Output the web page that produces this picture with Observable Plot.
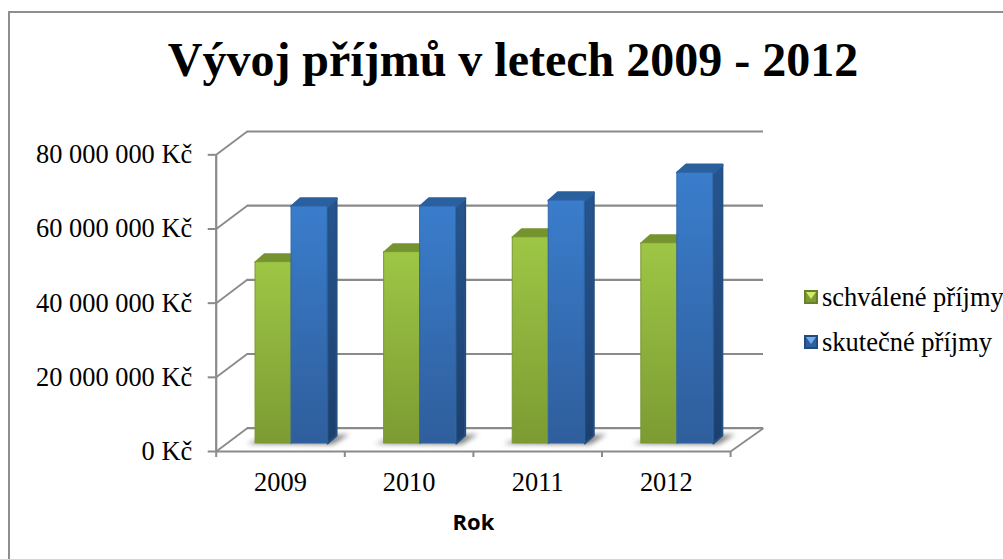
<!DOCTYPE html>
<html lang="cs">
<head>
<meta charset="utf-8">
<script src="https://cdn.jsdelivr.net/npm/d3@7"></script>
<script src="https://cdn.jsdelivr.net/npm/@observablehq/plot@0.6"></script>
<style>
html,body{margin:0;padding:0;background:#fff;width:1003px;height:559px;overflow:hidden}
#frame{position:absolute;left:8px;top:11px;right:-3px;bottom:-3px;border:2px solid #8e8e8e;box-sizing:border-box}
#chart{position:absolute;left:0;top:0}
#chart svg{display:block}
h1{position:absolute;left:0;top:30px;width:1026px;margin:0;text-align:center;font:bold 48px/60px "Liberation Serif",serif;color:#000;white-space:nowrap}
.leg{position:absolute;left:804px;font:26.5px/30px "Liberation Serif",serif;color:#000;white-space:nowrap;padding-left:18px}
.sw{position:absolute;left:0;top:8px;width:14px;height:14px;box-sizing:border-box;border:2px solid}
.sw i{position:absolute;left:0;top:0;width:10px;height:10px;clip-path:polygon(0 0,100% 0,50% 70%)}
</style>
</head>
<body>
<div id="frame"></div>
<div id="chart"></div>
<h1>Vývoj příjmů v letech 2009 - 2012</h1>
<div class="leg" style="top:282px"><span class="sw" style="background:#7f9c34;border-color:#67812a"><i style="background:#d3ea6a"></i></span>schválené příjmy</div>
<div class="leg" style="top:327px"><span class="sw" style="background:#2f5f9d;border-color:#234a7e"><i style="background:#6fb0ea"></i></span>skutečné příjmy</div>
<script>
const years = ["2009", "2010", "2011", "2012"];
const approved = [48.9e6, 51.6e6, 55.6e6, 54.0e6];
const actual = [63.9e6, 63.9e6, 65.5e6, 73.0e6];
const yTicks = [0, 20e6, 40e6, 60e6, 80e6];
const xBoundaries = [0, 1, 2, 3, 4];

// Depth of the pseudo-3D box and of each bar, in data units
const wallX = 0.241, wallY = 6.29e6;
const barDX = 0.07, barDY = 2.16e6;
const barStart = 0.306, barW = 0.28;
const floorY = 2.16e6;
const gridColor = "#8a8a8a";

const fmt = v => String(v).replace(/\B(?=(\d{3})+$)/g, " ") + " Kč";
const poly = (id, pts) => pts.map(([x, y]) => ({id, x, y}));

const shadows = [], sides = [], tops = [], front = [];
years.forEach((yr, i) => {
  [approved[i], actual[i]].forEach((v, s) => {
    const x0 = i + barStart + s * barW, x1 = x0 + barW;
    const key = s === 0 ? "a" : "b";
    front.push({key, x0, x1, v});
    sides.push(...poly(key + i + "s", [[x1, floorY], [x1 + barDX, floorY + barDY], [x1 + barDX, floorY + v + barDY], [x1, floorY + v]]).map(d => ({...d, key})));
    tops.push(...poly(key + i + "t", [[x0, floorY + v], [x1, floorY + v], [x1 + barDX, floorY + v + barDY], [x0 + barDX, floorY + v + barDY]]).map(d => ({...d, key})));
  });
  const l = i + barStart, r = l + 2 * barW;
  shadows.push(...poly("sh" + i, [[l - 0.07, floorY - 0.1e6], [l + 0.03, floorY + 1.1e6], [r + barDX + 0.1, floorY + barDY + 0.3e6], [r + 0.04, floorY - 0.3e6]]));
});

const defs = () => {
  const g = d3.create("svg:g");
  g.html(`<defs>
    <linearGradient id="gA" x1="0" y1="0" x2="0" y2="1"><stop offset="0" stop-color="#9ec645"/><stop offset="1" stop-color="#7c9b33"/></linearGradient>
    <linearGradient id="gB" x1="0" y1="0" x2="0" y2="1"><stop offset="0" stop-color="#3a7dcc"/><stop offset="1" stop-color="#2f5e9c"/></linearGradient>
    <linearGradient id="gS" x1="0" y1="0" x2="0" y2="1"><stop offset="0" stop-color="#26558f"/><stop offset="1" stop-color="#1c3f6d"/></linearGradient>
  </defs>`);
  return g.node();
};

const grey = {stroke: gridColor, strokeWidth: 2.2};
const plot = Plot.plot({
  width: 1003, height: 559,
  marginLeft: 215.7, marginRight: 240, marginTop: 131, marginBottom: 108,
  style: {background: "transparent", fontFamily: "'Liberation Serif',serif", color: "#000"},
  x: {type: "linear", domain: [0, 4.256], axis: null},
  y: {type: "linear", domain: [0, 86.29e6], axis: null},
  marks: [
    defs,
    Plot.ruleY(yTicks, {y: d => d + wallY, x1: wallX, x2: 4.256, ...grey}),
    Plot.link(yTicks, {x1: 0, y1: d => d, x2: wallX, y2: d => d + wallY, ...grey, strokeWidth: 1.8}),
    Plot.link([0], {x1: 4, y1: 0, x2: 4.256, y2: wallY, ...grey, strokeWidth: 1.8}),
    Plot.ruleX([0], {y1: 0, y2: 80e6, ...grey}),
    Plot.ruleY([0], {x1: 0, x2: 4, ...grey}),
    Plot.axisY({ticks: yTicks, tickFormat: fmt, tickSize: 8, tickPadding: 16, fontSize: 26.4, stroke: gridColor, strokeWidth: 2, label: null, anchor: "left"}),
    Plot.axisX({ticks: xBoundaries, tickFormat: () => "", tickSize: 6, stroke: gridColor, strokeWidth: 2, label: null, anchor: "bottom"}),
    Plot.axisX({ticks: years.map((_, i) => i + 0.5), tickFormat: (_, i) => years[i], tickSize: 0, tickPadding: 21, fontSize: 26.4, label: null, anchor: "bottom"}),
    Plot.text(["Rok"], {x: 2, y: 0, dy: 71, fontFamily: "'Open Sans',sans-serif", fontWeight: "bold", fontSize: 22, fill: "#000"}),
    Plot.line(shadows, {x: "x", y: "y", z: "id", fill: "#5a5a5a", stroke: null, curve: "linear-closed", fillOpacity: 0.75, imageFilter: "blur(2.5px)"}),
    Plot.line(sides.filter(d => d.key === "a"), {x: "x", y: "y", z: "id", fill: "#5f7a26", stroke: "#5f7a26", strokeWidth: 1, curve: "linear-closed"}),
    Plot.line(sides.filter(d => d.key === "b"), {x: "x", y: "y", z: "id", fill: "url(#gS)", stroke: "#24507f", strokeWidth: 2, strokeLinejoin: "round", curve: "linear-closed"}),
    Plot.line(tops.filter(d => d.key === "a"), {x: "x", y: "y", z: "id", fill: "#75942f", stroke: "#75942f", strokeWidth: 2, strokeLinejoin: "round", curve: "linear-closed"}),
    Plot.line(tops.filter(d => d.key === "b"), {x: "x", y: "y", z: "id", fill: "#2b609f", stroke: "#2b609f", strokeWidth: 2.5, strokeLinejoin: "round", curve: "linear-closed"}),
    Plot.rect(front.filter(d => d.key === "a"), {x1: "x0", x2: "x1", y1: floorY, y2: d => floorY + d.v, fill: "url(#gA)", stroke: "#7a9632", strokeWidth: 1, inset: 0}),
    Plot.rect(front.filter(d => d.key === "b"), {x1: "x0", x2: "x1", y1: floorY, y2: d => floorY + d.v, fill: "url(#gB)", stroke: "#2f65a8", strokeWidth: 1, inset: 0})
  ]
});
document.getElementById("chart").append(plot);
</script>
</body>
</html>
